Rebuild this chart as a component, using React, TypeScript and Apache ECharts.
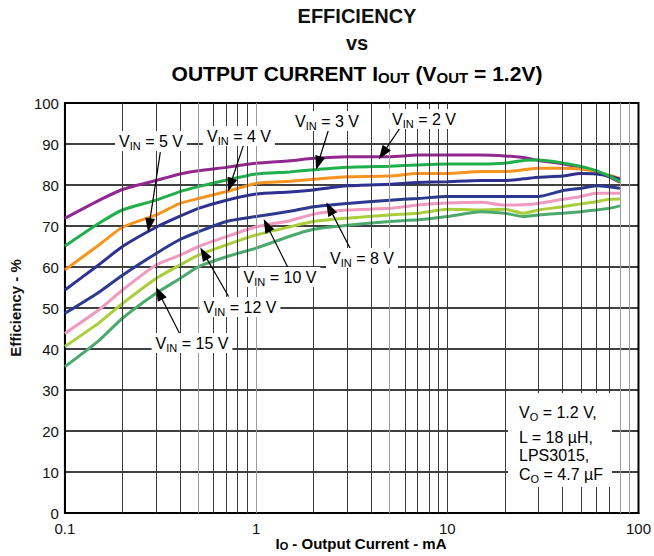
import React, { useEffect, useRef } from "react";
import * as echarts from "echarts";

// Output current (mA)
const currents = [0.1, 0.15, 0.2, 0.3, 0.4, 0.5, 0.7, 1, 1.5, 2, 3, 5, 7, 10, 15, 20, 25, 30, 40, 50, 60, 70, 80];

// Efficiency (%) per input voltage
const eff2V = [71.9, 76.2, 78.9, 81.1, 82.7, 83.5, 84.3, 85.3, 85.9, 86.5, 86.9, 86.9, 87.3, 87.3, 87.3, 87.1, 86.7, 86.0, 85.2, 84.3, 83.3, 82.0, 80.7];
const eff3V = [65.1, 70.6, 73.9, 76.3, 78.4, 79.6, 81.2, 82.7, 83.2, 83.7, 84.3, 84.6, 84.9, 85.1, 85.1, 85.3, 86.0, 86.1, 85.4, 84.5, 83.5, 82.2, 80.8];
const eff4V = [59.3, 65.3, 69.7, 72.7, 75.5, 76.7, 78.4, 80.4, 80.9, 81.4, 82.0, 82.2, 82.8, 82.8, 83.3, 83.3, 83.7, 84.1, 84.1, 83.9, 83.3, 82.4, 81.6];
const eff5V = [54.4, 60.5, 65.0, 69.7, 72.4, 74.3, 76.3, 77.8, 78.3, 78.8, 79.8, 80.2, 80.6, 80.8, 81.1, 81.1, 81.5, 81.9, 82.2, 82.8, 82.7, 82.2, 81.4];
const eff8V = [48.7, 53.8, 58.0, 63.3, 66.7, 68.6, 71.1, 72.3, 73.6, 74.7, 75.5, 76.3, 76.7, 77.2, 77.2, 77.2, 77.2, 77.2, 78.6, 79.2, 79.8, 79.6, 79.2];
const eff10V = [43.8, 49.5, 54.4, 60.5, 62.9, 65.0, 67.4, 69.8, 71.3, 72.9, 73.9, 74.3, 75.1, 75.6, 75.8, 75.1, 75.2, 75.5, 76.5, 77.2, 78.0, 78.0, 78.0];
const eff12V = [40.6, 46.3, 51.1, 57.2, 60.5, 62.9, 65.4, 67.8, 69.8, 71.1, 71.9, 72.7, 73.1, 74.1, 73.9, 74.1, 73.1, 73.9, 74.7, 75.4, 75.9, 76.5, 76.6];
const eff15V = [35.7, 42.0, 47.5, 53.6, 57.2, 60.1, 62.5, 64.6, 67.5, 69.2, 70.2, 71.1, 71.5, 72.3, 73.5, 73.1, 72.3, 72.7, 73.1, 73.5, 73.9, 74.3, 74.9];

const seriesNames = ["VIN = 2 V", "VIN = 3 V", "VIN = 4 V", "VIN = 5 V", "VIN = 8 V", "VIN = 10 V", "VIN = 12 V", "VIN = 15 V"];
const seriesValues = [eff2V, eff3V, eff4V, eff5V, eff8V, eff10V, eff12V, eff15V];
const seriesColors = ["#93278F", "#1DB04B", "#F7941D", "#2E3192", "#2B3990", "#F19AC0", "#AACE39", "#4BAA6E"];

// Log-grid vertical lines
const verticalGridX = [0.2, 0.3, 0.4, 0.5, 0.6, 0.7, 0.8, 0.9, 1, 2, 3, 4, 5, 6, 7, 8, 9, 10, 20, 30, 40, 50, 60, 70, 80, 90];
const lightGridX = [0.5, 1, 5, 80, 90];

// Tick labels
const yTicks = [0, 10, 20, 30, 40, 50, 60, 70, 80, 90, 100];

// Arrow annotations in data units
const arrowTails = [
  [5.72, 94.2], [2.42, 94.2], [0.86, 89.8], [0.3155, 88.0],
  [3.14, 64.1], [1.473, 59.7], [0.718, 52.8], [0.403, 43.3],
];
const arrowTips = [
  [4.6, 87.7], [2.11, 85.3], [0.732, 80.0], [0.2757, 70.2],
  [2.42, 74.3], [1.137, 70.2], [0.5326, 63.3], [0.3108, 53.6],
];
const labelVolts = ["2", "3", "4", "5", "8", "10", "12", "15"];

const FONT = "'Liberation Sans', Arial, Helvetica, sans-serif";

export default function App() {
  const ref = useRef<HTMLDivElement>(null);

  useEffect(() => {
    const chart = echarts.init(ref.current as HTMLDivElement, null, { renderer: "svg" });

    const curveSeries = seriesValues.map((vals, si) => ({
      name: seriesNames[si],
      type: "line",
      data: currents.map((c, i) => [c, vals[i]]),
      showSymbol: false,
      smooth: 0.2,
      z: 3 + (si === 1 ? 1 : 0),
      lineStyle: { color: seriesColors[si], width: 3 },
      itemStyle: { color: seriesColors[si] },
      silent: true,
    }));

    const gridSeries = {
      type: "line",
      data: [],
      z: 1,
      silent: true,
      markLine: {
        silent: true,
        symbol: ["none", "none"],
        label: { show: false },
        animation: false,
        data: verticalGridX.map((v) => ({
          xAxis: v,
          lineStyle: {
            color: lightGridX.includes(v) ? "#9a9a9a" : "#3a3a3a",
            width: 1,
            type: "solid",
          },
        })),
      },
    };

    const arrowSeries = {
      type: "line",
      data: [],
      z: 6,
      silent: true,
      markLine: {
        silent: true,
        animation: false,
        symbol: ["none", "triangle"],
        symbolSize: [0, 12],
        label: { show: false },
        lineStyle: { color: "#000", width: 1.2, type: "solid" },
        data: arrowTails.map((t, i) => [
          { coord: t, symbol: "none" },
          { coord: arrowTips[i], symbol: "triangle", symbolSize: [10, 14] },
        ]),
      },
    };

    const subRich = {
      n: { fontSize: 16, fontFamily: FONT, color: "#111", lineHeight: 20 },
      s: { fontSize: 11, fontFamily: FONT, color: "#111", lineHeight: 12, verticalAlign: "bottom" },
    };

    const labelPos = [
      [424, 119], [327, 121], [239, 136], [151, 141],
      [362, 258], [280, 277], [240, 307], [192, 343],
    ];

    const vinLabels = labelVolts.map((v, i) => ({
      type: "text",
      x: labelPos[i][0],
      y: labelPos[i][1],
      z: 10,
      style: {
        text: `{n|V}{s|IN}{n| = ${v} V}`,
        rich: subRich,
        align: "center",
        verticalAlign: "middle",
        backgroundColor: "#fff",
        padding: [0, 4, 0, 4],
      },
    }));

    const noteLines = [
      { text: "{n|V}{s|O}{n| = 1.2 V,}", y: 412 },
      { text: "{n|L = 18 µH,}", y: 437 },
      { text: "{n|LPS3015,}", y: 455 },
      { text: "{n|C}{s|O}{n| = 4.7 µF}", y: 474 },
    ];

    chart.setOption({
      animation: false,
      backgroundColor: "#fff",
      grid: {
        left: 62,
        right: 15,
        top: 103,
        bottom: 43,
        show: true,
        borderColor: "#000",
        borderWidth: 2,
        containLabel: false,
      },
      xAxis: {
        type: "log",
        logBase: 10,
        min: 0.1,
        max: 100,
        axisLine: { show: true, lineStyle: { color: "#000", width: 2 } },
        axisTick: { show: false },
        splitLine: { show: false },
        minorSplitLine: { show: false },
        axisLabel: {
          color: "#111",
          fontSize: 15,
          lineHeight: 14,
          fontFamily: FONT,
          margin: 8,
          formatter: (v: number) => (v < 1 ? v.toFixed(1) : String(Math.round(v))),
        },
      },
      yAxis: {
        type: "value",
        min: yTicks[0],
        max: yTicks[yTicks.length - 1],
        interval: 10,
        axisLine: { show: true, lineStyle: { color: "#000", width: 2 } },
        axisTick: { show: false },
        splitLine: { show: true, lineStyle: { color: "#000", width: 1.5 } },
        axisLabel: { color: "#111", fontSize: 15, lineHeight: 12, fontFamily: FONT, margin: 6 },
        name: "Efficiency - %",
        nameLocation: "middle",
        nameGap: 38,
        nameTextStyle: { fontSize: 15, fontWeight: "bold", fontFamily: FONT, color: "#111" },
      },
      series: [gridSeries, ...curveSeries, arrowSeries],
      graphic: [
        {
          type: "text",
          x: 357,
          y: 16,
          style: {
            text: "EFFICIENCY",
            font: `bold 20px ${FONT}`,
            fill: "#111",
            align: "center",
            verticalAlign: "middle",
          },
        },
        {
          type: "text",
          x: 357,
          y: 43,
          style: {
            text: "vs",
            font: `bold 20px ${FONT}`,
            fill: "#111",
            align: "center",
            verticalAlign: "middle",
          },
        },
        {
          type: "text",
          x: 357,
          y: 73,
          style: {
            text: "{b|OUTPUT CURRENT I}{s|OUT}{b| (V}{s|OUT}{b| = 1.2V)}",
            rich: {
              b: { fontSize: 21, fontWeight: "bold", fontFamily: FONT, color: "#111", lineHeight: 24 },
              s: { fontSize: 15, fontWeight: "bold", fontFamily: FONT, color: "#111", lineHeight: 14, verticalAlign: "bottom" },
            },
            align: "center",
            verticalAlign: "middle",
          },
        },
        {
          type: "text",
          x: 361,
          y: 543,
          style: {
            text: "{b|I}{s|O}{b| - Output Current - mA}",
            rich: {
              b: { fontSize: 15, fontWeight: "bold", fontFamily: FONT, color: "#111", lineHeight: 16 },
              s: { fontSize: 11, fontWeight: "bold", fontFamily: FONT, color: "#111", lineHeight: 9, verticalAlign: "bottom" },
            },
            align: "center",
            verticalAlign: "middle",
          },
        },
        ...vinLabels,
        {
          type: "rect",
          shape: { x: 508, y: 393, width: 104, height: 94 },
          style: { fill: "#fff" },
          z: 9,
        },
        ...noteLines.map((l) => ({
          type: "text",
          x: 519,
          y: l.y,
          z: 10,
          style: {
            text: l.text,
            rich: subRich,
            align: "left",
            verticalAlign: "middle",
          },
        })),
      ],
    });

    return () => chart.dispose();
  }, []);

  return (
    <div
      ref={ref}
      style={{ position: "fixed", left: 0, top: 0, width: 654, height: 556, background: "#fff" }}
    />
  );
}
